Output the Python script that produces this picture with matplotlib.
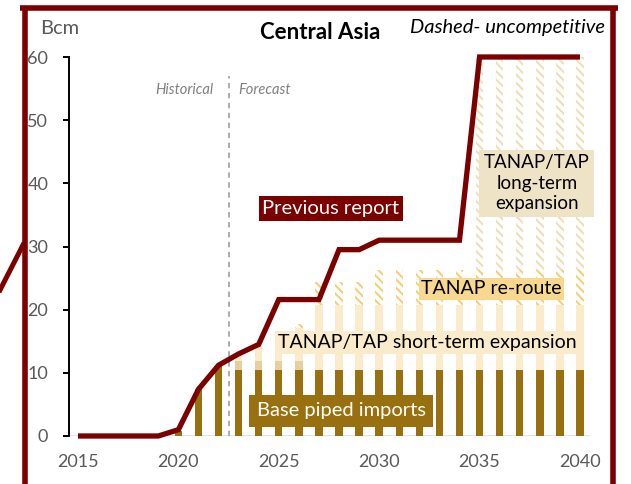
import numpy as np
import matplotlib
matplotlib.use("Agg")
import matplotlib.pyplot as plt
from matplotlib.lines import Line2D

plt.rcParams['font.family'] = ['Lato', 'DejaVu Sans']
plt.rcParams['hatch.linewidth'] = 1.5

years = np.arange(2015, 2041)
# Bcm
base = [0, 0, 0, 0, 0, 0.8, 7.4, 11.3, 10.5, 10.5, 10.5, 10.5, 10.5, 10.5, 10.5, 10.5,
        10.5, 10.5, 10.5, 10.5, 10.5, 10.5, 10.5, 10.5, 10.5, 10.5]
existing = [0, 0, 0, 0, 0, 0, 0, 0, 1.3, 1.3, 1.3, 1.3, 0, 0, 0, 0,
            0, 0, 0, 0, 0, 0, 0, 0, 0, 0]
short_term = [0, 0, 0, 0, 0, 0, 0, 0, 1.2, 2.4, 3.5, 5.3, 10.3, 10.3, 10.3, 10.3,
              10.3, 10.3, 10.3, 10.3, 10.3, 10.3, 10.3, 10.3, 10.3, 10.3]
reroute = [0, 0, 0, 0, 0, 0, 0, 0, 0, 0, 0, 0.6, 3.6, 3.6, 3.6, 5.5,
           5.5, 5.5, 5.5, 5.5, 5.5, 5.5, 5.5, 5.5, 5.5, 5.5]
long_term = [0, 0, 0, 0, 0, 0, 0, 0, 0, 0, 0, 0, 0, 0, 0, 0,
             0, 0, 0, 0, 33.7, 33.7, 33.7, 33.7, 33.7, 33.7]
previous = [0, 0, 0, 0, 0, 1, 7.4, 11.2, 13, 14.5, 21.6, 21.6, 21.6, 29.5, 29.5, 31,
            31, 31, 31, 31, 60, 60, 60, 60, 60, 60]
xticks = [2015, 2020, 2025, 2030, 2035, 2040]

dark_red = '#7B0000'
c_base = '#98700F'
c_exist = '#E3CFA0'
c_short = '#FAEBCB'
c_reroute = '#F5CF78'
c_long = '#F0DEB8'
grey = '#595959'

W, H = 631, 484
fig = plt.figure(figsize=(W / 100, H / 100), dpi=100)
ax = fig.add_axes([69 / W, (H - 436) / H, 521 / W, 379 / H])


def px(x, y):
    return x / W, 1 - y / H


bw = 0.37
bottom = np.zeros(len(years))
ax.bar(years, base, bw, bottom=bottom, color=c_base, zorder=2)
bottom += base
ax.bar(years, existing, bw, bottom=bottom, color=c_exist, zorder=2)
bottom += existing
ax.bar(years, short_term, bw, bottom=bottom, color=c_short, zorder=2)
bottom += short_term
ax.bar(years, reroute, bw, bottom=bottom, facecolor='white', edgecolor=c_reroute,
       hatch='\\\\\\\\', linewidth=0, zorder=2)
bottom += reroute
ax.bar(years, long_term, bw, bottom=bottom, facecolor='white', edgecolor=c_long,
       hatch='\\\\\\\\', linewidth=0, zorder=2)

ax.plot(years, previous, color=dark_red, lw=3.8, zorder=5, clip_on=False,
        solid_joinstyle='miter', solid_capstyle='butt')

ax.axvline(2022.5, ymin=0, ymax=57 / 60, color='#A6A6A6', ls=(0, (3, 2.5)), lw=1.3, zorder=3)
ax.axhline(0, color='#D9D9D9', lw=1.8, zorder=1)

ax.set_xlim(2014.552, 2040.5)
ax.set_ylim(0, 60)
ax.set_yticks(range(0, 61, 10))
ax.set_xticks(xticks)
for s in ['top', 'right', 'bottom']:
    ax.spines[s].set_visible(False)
ax.spines['left'].set_linewidth(1.4)
ax.tick_params(axis='y', length=4, width=1.4, pad=11, labelsize=13, labelcolor=grey)
ax.tick_params(axis='x', length=0, pad=13, labelsize=13, labelcolor=grey)

# annotations
ax.text(2027.6, 36.0, 'Previous report', color='white', fontsize=14.5, ha='center', va='center',
        zorder=6, bbox=dict(boxstyle='square,pad=0.18', fc=dark_red, ec='none'))
ax.text(2037.85, 40, 'TANAP/TAP\nlong-term\nexpansion', color='black', fontsize=13.5,
        ha='center', va='center', linespacing=1.25, zorder=6,
        bbox=dict(boxstyle='square,pad=0.25', fc='#EFE3C6', ec='none'))
ax.text(2035.6, 23.3, 'TANAP re-route', color='black', fontsize=14, ha='center', va='center',
        zorder=6, bbox=dict(boxstyle='square,pad=0.12', fc='#F7D88C', ec='none'))
ax.text(2032.4, 14.8, 'TANAP/TAP short-term expansion', color='black', fontsize=14,
        ha='center', va='center', zorder=6,
        bbox=dict(boxstyle='square,pad=0.15', fc=c_short, ec='none'))
ax.text(2028.1, 4.0, 'Base piped imports', color='white', fontsize=14.5, ha='center', va='center',
        zorder=6, bbox=dict(boxstyle='square,pad=0.38', fc=c_base, ec='none'))
ax.text(2021.72, 54.8, 'Historical', color='#808080', fontsize=10.5, style='italic',
        ha='right', va='center')
ax.text(2023.0, 54.8, 'Forecast', color='#808080', fontsize=10.5, style='italic',
        ha='left', va='center')

fig.text(*px(40, 28), 'Bcm', color=grey, fontsize=14.5, ha='left', va='center')
fig.text(*px(320, 33), 'Central Asia', color='black', fontsize=16, weight='bold',
         ha='center', va='center')
fig.text(*px(410, 28), 'Dashed- uncompetitive', color='black', fontsize=14.5,
         style='italic', ha='left', va='center')

# frame and neighbouring chart's line
for xs, ys in [([20, 618], [8, 8]), ([25, 25], [8, 484]), ([613, 613], [8, 484])]:
    fig.add_artist(Line2D([x / W for x in xs], [1 - y / H for y in ys], color=dark_red,
                          lw=4, solid_capstyle='butt'))
fig.add_artist(Line2D([0, 23 / W], [1 - 290 / H, 1 - 245 / H], color=dark_red, lw=3.6))

fig.savefig('out.png', dpi=100)
